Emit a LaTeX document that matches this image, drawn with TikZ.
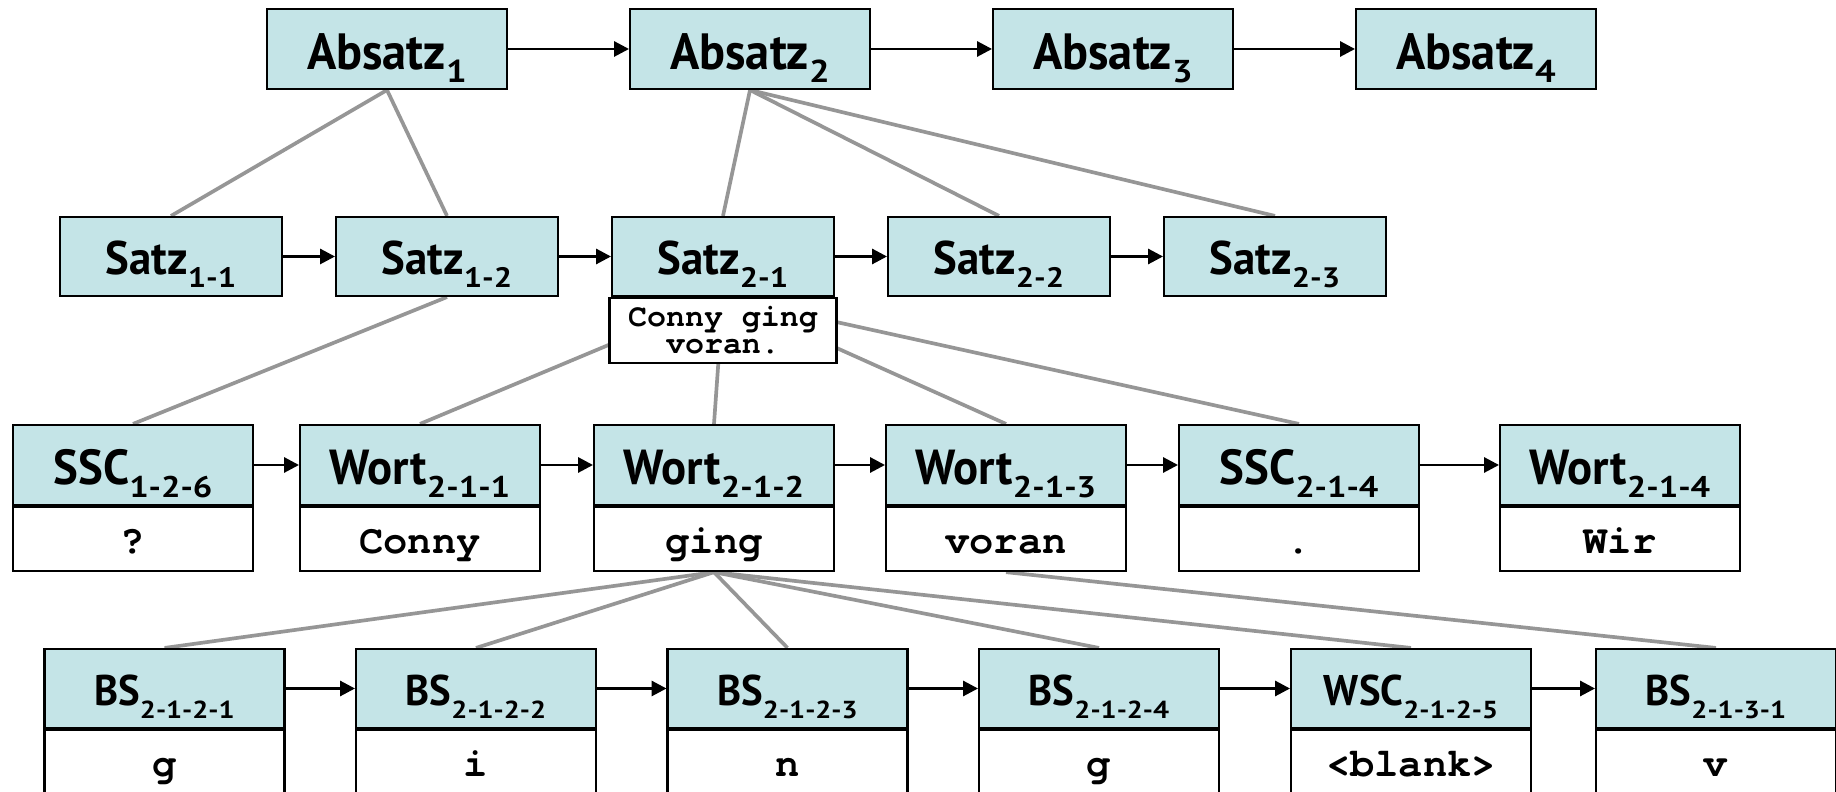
\documentclass[tikz,border=0pt]{standalone}
\usepackage{fontspec}
\setmainfont{PT Sans}[FakeStretch=0.95]
\newfontfamily\subsfont{PT Sans}[FakeStretch=1.15]
\setmonofont{texgyrecursor}[Extension=.otf,UprightFont=*-regular,BoldFont=*-bold]
\usepackage{tikz}
\usetikzlibrary{arrows.meta,backgrounds}
\definecolor{boxcyan}{RGB}{196,228,231}
\definecolor{linkgray}{RGB}{150,150,150}

% lowered index behind a unit label, size given as option
\newcommand{\ix}[2][8.5]{\raisebox{-3.7pt}{\subsfont\bfseries\fontsize{#1}{#1}\selectfont #2}}

\begin{document}
\begin{tikzpicture}[
    unit/.style={draw, line width=0.6pt, fill=boxcyan, inner sep=0pt, text depth=0pt},
    absbox/.style={unit, minimum width=2.4cm, minimum height=0.8cm,
        font=\bfseries\fontsize{14.5}{16}\selectfont, text height=11.4pt},
    satzbox/.style={unit, minimum width=2.22cm, minimum height=0.79cm,
        font=\bfseries\fontsize{13.4}{15}\selectfont, text height=10.5pt},
    wortbox/.style={unit, minimum width=2.4cm, minimum height=0.8cm,
        font=\bfseries\fontsize{14}{16}\selectfont, text height=11.2pt},
    bsbox/.style={unit, minimum width=2.4cm, minimum height=0.79cm,
        font=\bfseries\fontsize{12.2}{14}\selectfont, text height=9.7pt},
    inhalt/.style={draw, line width=0.6pt, fill=white, inner sep=0pt, anchor=north,
        minimum width=2.4cm, minimum height=0.64cm, text height=8pt, text depth=0pt,
        font=\ttfamily\bfseries\fontsize{11.5}{12}\selectfont},
    bsinhalt/.style={inhalt, minimum height=0.7cm, text height=6.3pt},
    satztext/.style={draw, line width=0.6pt, fill=white, inner sep=1pt, anchor=north,
        minimum width=2.27cm, minimum height=0.65cm, align=center,
        font=\ttfamily\bfseries\fontsize{9}{7.7}\selectfont},
    folge/.style={-{Triangle[length=4.2pt,width=4.3pt]}, line width=0.6pt},
    teil/.style={linkgray, line width=1.05pt}
]
\useasboundingbox (0,0) rectangle (18.36,-7.92);

% Absaetze
\node[absbox] (a1) at (3.87,-0.49) {Absatz\ix[9]{1}};
\node[absbox] (a2) at (7.50,-0.49) {Absatz\ix[9]{2}};
\node[absbox] (a3) at (11.13,-0.49) {Absatz\ix[9]{3}};
\node[absbox] (a4) at (14.76,-0.49) {Absatz\ix[9]{4}};

% Saetze
\node[satzbox] (s11) at (1.71,-2.565) {Satz\ix[8]{1-1}};
\node[satzbox] (s12) at (4.47,-2.565) {Satz\ix[8]{1-2}};
\node[satzbox] (s21) at (7.23,-2.565) {Satz\ix[8]{2-1}};
\node[satzbox] (s22) at (9.99,-2.565) {Satz\ix[8]{2-2}};
\node[satzbox] (s23) at (12.75,-2.565) {Satz\ix[8]{2-3}};
\node[satztext] (s21txt) at (s21.south) {Conny ging\\voran.};

% Woerter und Satzzeichen
\node[wortbox] (w126) at (1.33,-4.65) {SSC\ix{1-2-6}};
\node[wortbox] (w211) at (4.20,-4.65) {Wort\ix{2-1-1}};
\node[wortbox] (w212) at (7.14,-4.65) {Wort\ix{2-1-2}};
\node[wortbox] (w213) at (10.06,-4.65) {Wort\ix{2-1-3}};
\node[wortbox] (w214) at (12.99,-4.65) {SSC\ix{2-1-4}};
\node[wortbox] (w2141) at (16.20,-4.65) {Wort\ix{2-1-4}};
\node[inhalt] (t126) at (w126.south) {?};
\node[inhalt] (t211) at (w211.south) {Conny};
\node[inhalt] (t212) at (w212.south) {ging};
\node[inhalt] (t213) at (w213.south) {voran};
\node[inhalt] (t214) at (w214.south) {.};
\node[inhalt] (t2141) at (w2141.south) {Wir};

% Buchstaben
\node[bsbox] (b1) at (1.645,-6.885) {BS\ix[7]{2-1-2-1}};
\node[bsbox] (b2) at (4.76,-6.885) {BS\ix[7]{2-1-2-2}};
\node[bsbox] (b3) at (7.875,-6.885) {BS\ix[7]{2-1-2-3}};
\node[bsbox] (b4) at (10.99,-6.885) {BS\ix[7]{2-1-2-4}};
\node[bsbox] (b5) at (14.11,-6.885) {WSC\ix[7]{2-1-2-5}};
\node[bsbox] (b6) at (17.16,-6.885) {BS\ix[7]{2-1-3-1}};
\node[bsinhalt] (c1) at (b1.south) {g};
\node[bsinhalt] (c2) at (b2.south) {i};
\node[bsinhalt] (c3) at (b3.south) {n};
\node[bsinhalt] (c4) at (b4.south) {g};
\node[bsinhalt] (c5) at (b5.south) {<blank>};
\node[bsinhalt] (c6) at (b6.south) {v};

% Reihenfolge
\draw[folge] (a1) -- (a2);
\draw[folge] (a2) -- (a3);
\draw[folge] (a3) -- (a4);
\draw[folge] (s11) -- (s12);
\draw[folge] (s12) -- (s21);
\draw[folge] (s21) -- (s22);
\draw[folge] (s22) -- (s23);
\draw[folge] (w126) -- (w211);
\draw[folge] (w211) -- (w212);
\draw[folge] (w212) -- (w213);
\draw[folge] (w213) -- (w214);
\draw[folge] (w214) -- (w2141);
\draw[folge] (b1) -- (b2);
\draw[folge] (b2) -- (b3);
\draw[folge] (b3) -- (b4);
\draw[folge] (b4) -- (b5);
\draw[folge] (b5) -- (b6);

% Enthaltensein, hinter den Kaesten
\begin{scope}[on background layer]
\draw[teil] (a1.south) -- (s11.north);
\draw[teil] (a1.south) -- (s12.north);
\draw[teil] (a2.south) -- (s21.north);
\draw[teil] (a2.south) -- (s22.north);
\draw[teil] (a2.south) -- (s23.north);
\draw[teil] (s12.south) -- (w126.north);
\draw[teil] (s21.south) -- (w211.north);
\draw[teil] (s21.south) -- (w212.north);
\draw[teil] (s21.south) -- (w213.north);
\draw[teil] (s21.south) -- (w214.north);
\draw[teil] (t212.south) -- (b1.north);
\draw[teil] (t212.south) -- (b2.north);
\draw[teil] (t212.south) -- (b3.north);
\draw[teil] (t212.south) -- (b4.north);
\draw[teil] (t212.south) -- (b5.north);
\draw[teil] (t213.south) -- (b6.north);
\end{scope}
\end{tikzpicture}
\end{document}
